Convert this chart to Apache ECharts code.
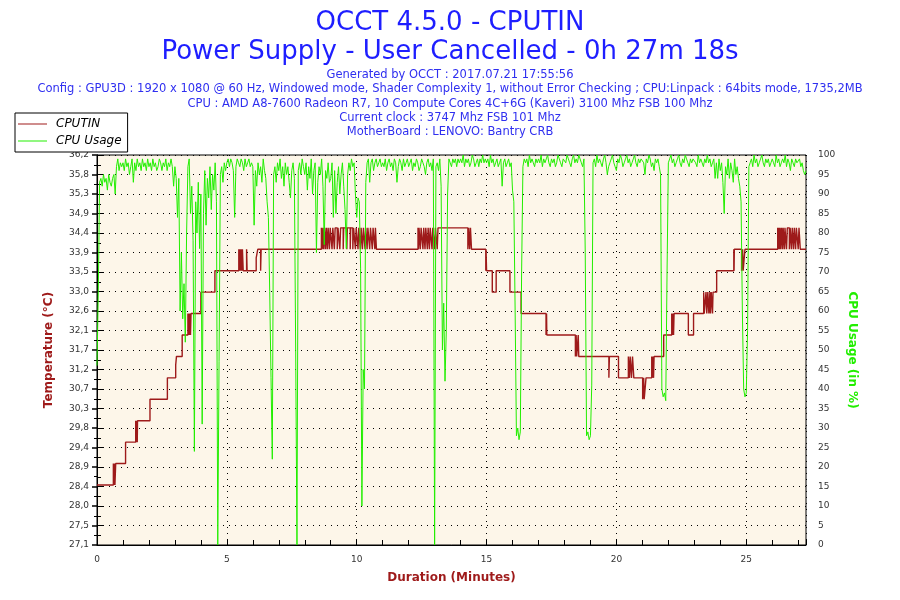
<!DOCTYPE html>
<html>
<head>
<meta charset="utf-8">
<script src="https://cdn.jsdelivr.net/npm/echarts@6/dist/echarts.min.js"></script>
<style>
html,body{margin:0;padding:0;background:#fff;}
#chart{width:900px;height:600px;}
</style>
</head>
<body>
<div id="chart"></div>
<script>
// ---------- text ----------
const titleLines = ['OCCT 4.5.0 - CPUTIN', 'Power Supply - User Cancelled - 0h 27m 18s'];
const infoLines = [
  'Generated by OCCT : 2017.07.21 17:55:56',
  'Config : GPU3D : 1920 x 1080 @ 60 Hz, Windowed mode, Shader Complexity 1, without Error Checking ; CPU:Linpack : 64bits mode, 1735,2MB',
  'CPU : AMD A8-7600 Radeon R7, 10 Compute Cores 4C+6G (Kaveri) 3100 Mhz FSB 100 Mhz',
  'Current clock : 3747 Mhz FSB 101 Mhz',
  'MotherBoard : LENOVO: Bantry CRB'
];
const seriesNames = ['CPUTIN', 'CPU Usage'];

// ---------- axes ----------
const tempMin = 27.1, tempMax = 36.2, tempStep = 0.455;
const tempTickLabels = ['27,1','27,5','28,0','28,4','28,9','29,4','29,8','30,3','30,7','31,2','31,7','32,1','32,6','33,0','33,5','33,9','34,4','34,9','35,3','35,8','36,2'];
const durationMax = 27.3; // minutes

// ---------- CPUTIN temperature: [minute, °C], value holds until next point ----------
const tempPoints = [
  [0,28.5],[0.63,29.0],[0.65,28.5],[0.67,29.0],[0.69,28.5],[0.72,29.0],
  [1.10,29.5],[1.49,30.0],[1.51,29.5],[1.53,30.0],[1.55,29.5],[1.56,30.0],
  [2.04,30.5],[2.71,31.0],[3.03,31.3],[3.06,31.5],[3.28,32.0],
  [3.50,32.5],[3.52,32.0],[3.54,32.5],[3.56,32.0],[3.58,32.5],[3.60,32.0],[3.62,32.5],
  [4.00,33.0],[4.54,33.5],
  [5.46,34.0],[5.48,33.5],[5.50,34.0],[5.53,33.5],[5.55,34.0],[5.58,33.5],[5.60,34.0],[5.63,33.5],
  [5.76,34.0],[5.78,33.5],[6.13,33.8],[6.19,34.0],[6.30,33.5],[6.32,34.0],
  [8.64,34.5],[8.67,34.0],[8.70,34.5],[8.73,34.0],[8.76,34.5],[8.80,34.0],[8.83,34.5],[8.87,34.0],
  [8.90,34.5],[8.95,34.0],[8.98,34.5],[9.05,34.0],[9.08,34.5],[9.14,34.0],[9.17,34.5],[9.25,34.0],
  [9.28,34.5],[9.35,34.0],[9.38,34.5],[9.48,34.0],[9.50,34.5],[9.62,34.0],[9.64,34.5],[9.75,34.0],
  [9.77,34.5],[9.85,34.0],[9.88,34.5],[9.95,34.0],[9.98,34.5],[10.05,34.0],[10.08,34.5],[10.14,34.0],
  [10.17,34.5],[10.22,34.0],[10.26,34.5],[10.32,34.0],[10.35,34.5],[10.40,34.0],[10.43,34.5],[10.50,34.0],
  [10.53,34.5],[10.60,34.0],[10.63,34.5],[10.70,34.0],[10.72,34.5],[10.76,34.0],
  [12.36,34.5],[12.38,34.0],[12.40,34.5],[12.45,34.0],[12.48,34.5],[12.55,34.0],[12.58,34.5],[12.63,34.0],
  [12.66,34.5],[12.72,34.0],[12.75,34.5],[12.80,34.0],[12.83,34.5],[12.90,34.0],[12.93,34.5],[13.00,34.0],
  [13.03,34.5],[13.10,34.0],[13.13,34.5],
  [14.28,34.0],[14.31,34.5],[14.35,34.0],[14.38,34.5],[14.42,34.0],
  [14.97,33.5],[14.98,34.0],[15.00,33.5],[15.22,33.0],[15.37,33.5],[15.90,33.0],[16.33,32.5],
  [17.29,32.0],[17.31,32.5],[17.32,32.0],
  [18.42,31.5],[18.45,32.0],[18.47,31.5],[18.53,32.0],[18.55,31.5],
  [19.71,31.0],[19.73,31.5],[20.08,31.0],
  [20.46,31.5],[20.50,31.0],[20.53,31.5],[20.58,31.0],[20.62,31.5],[20.67,31.0],
  [21.01,30.5],[21.05,31.0],[21.07,30.5],[21.14,31.0],
  [21.36,31.5],[21.38,31.0],[21.40,31.5],[21.43,31.0],[21.45,31.5],
  [21.82,32.0],[22.13,32.5],[22.16,32.0],[22.18,32.5],[22.20,32.0],[22.22,32.5],
  [22.77,32.0],[22.97,32.5],
  [23.36,33.0],[23.38,32.5],[23.45,33.0],[23.48,32.5],[23.52,33.0],[23.56,32.5],[23.60,33.0],[23.62,32.5],
  [23.65,33.0],[23.70,32.5],[23.72,33.0],
  [23.86,33.5],[24.52,34.0],[24.53,33.5],[24.54,34.0],
  [24.82,33.5],[24.86,34.0],[24.88,33.5],[24.95,34.0],
  [26.21,34.5],[26.23,34.0],[26.25,34.5],[26.28,34.0],[26.30,34.5],[26.33,34.0],[26.36,34.5],[26.40,34.0],
  [26.42,34.5],[26.47,34.0],[26.49,34.5],[26.55,34.0],[26.58,34.5],[26.66,34.0],[26.69,34.5],[26.74,34.0],
  [26.77,34.5],[26.82,34.0],[26.85,34.5],[26.90,34.0],[26.93,34.5],[27.00,34.0],[27.03,34.5],[27.08,34.0],
  [27.30,34.0]
];

// ---------- CPU usage (%), one reading every 0.05 minute (3 s) ----------
const cpuSampleStep = 0.05;
const cpuUsage = [
  46,65,93,94,92,95,93,94,91,95,93,92,94,95,90,97,99,96,98,97,
  98,96,99,97,98,95,97,99,93,98,96,99,97,98,96,99,97,98,96,99,
  97,98,96,99,97,98,96,97,99,98,96,98,97,99,96,98,97,99,97,92,
  97,94,84,94,60,75,58,67,52,80,97,99,85,92,78,24,88,80,93,76,
  90,31,85,96,82,94,89,97,86,95,91,98,88,0,47,95,97,93,98,96,
  98,99,97,99,98,96,84,97,99,98,97,99,98,96,99,97,98,99,97,98,
  97,82,96,92,98,95,97,93,99,96,94,88,84,65,43,22,95,97,93,98,
  96,99,94,97,92,98,95,97,93,89,96,98,94,50,0,96,98,95,99,97,
  95,98,91,97,94,99,90,96,98,75,93,97,95,99,92,77,96,94,98,93,
  94,98,84,96,85,93,97,90,95,98,92,86,76,95,98,96,99,97,98,90,
  84,89,88,71,10,45,40,93,98,99,93,98,99,96,98,99,97,98,99,97,
  98,97,99,96,98,99,97,98,96,99,98,93,97,99,98,96,99,97,98,99,
  97,98,99,96,98,97,99,98,96,97,99,98,97,95,98,99,97,98,96,99,
  0,97,98,96,99,92,50,62,42,55,90,99,98,97,99,98,99,97,99,98,
  99,98,100,97,99,98,99,97,98,100,99,97,98,99,97,99,98,100,98,99,
  98,99,97,100,98,99,97,98,99,97,98,99,92,98,99,97,98,99,97,98,
  91,88,60,28,30,27,29,70,97,99,98,99,97,100,98,99,98,97,99,98,
  99,98,100,97,99,98,99,100,98,97,99,98,99,97,98,100,99,98,97,99,
  99,98,100,99,98,97,99,100,98,99,98,100,99,98,97,99,75,28,29,27,
  28,41,98,99,97,100,98,99,98,97,99,100,98,95,97,98,99,100,98,97,
  96,99,98,100,99,97,98,99,100,98,99,97,98,99,100,98,97,99,98,99,
  99,98,95,99,98,100,99,97,98,96,99,98,99,97,95,40,38,39,37,70,
  98,99,100,98,99,97,98,99,100,98,97,99,98,100,99,98,97,99,98,99,
  99,98,97,100,98,99,98,97,99,98,100,98,99,97,98,99,94,98,94,99,
  96,98,93,85,97,95,99,94,98,96,93,99,95,97,94,92,88,60,40,38,
  39,55,97,98,99,97,100,98,99,97,98,99,100,98,97,99,98,99,97,98,
  99,98,97,100,98,99,97,98,99,98,100,97,99,98,96,99,98,97,99,98,
  98,99,97,98,96,95,96
];

// ---------- styles ----------
const FONT = 'DejaVu Sans';
const RED = '#9e1a1a';
const GREEN = '#22ee00';
const BLUE_T = '#1e1eff';
const BLUE_S = '#2f2ff0';
const dotted = { color: '#000', width: 1, type: [1, 5] };

const cpuData = cpuUsage.map((v, i) => [Math.round(i * cpuSampleStep * 100) / 100, v]);

const titles = [];
titles.push({ text: titleLines[0], left: 'center', top: 5, textStyle: { fontFamily: FONT, fontSize: 26, fontWeight: 'normal', color: BLUE_T } });
titles.push({ text: titleLines[1], left: 'center', top: 34, textStyle: { fontFamily: FONT, fontSize: 26, fontWeight: 'normal', color: BLUE_T } });
infoLines.forEach((t, i) => {
  titles.push({ text: t, left: 'center', top: 69 + i * 14.3, padding: 0, textStyle: { fontFamily: FONT, fontSize: 11.5, fontWeight: 'normal', color: BLUE_S } });
});

const chart = echarts.init(document.getElementById('chart'), null, { renderer: 'canvas' });
chart.setOption({
  animation: false,
  backgroundColor: '#fff',
  title: titles,
  legend: {
    orient: 'vertical', left: 15, top: 113,
    backgroundColor: '#fff', borderColor: '#000', borderWidth: 1,
    padding: [5, 6, 5, 3], itemGap: 5, itemWidth: 29, itemHeight: 1,
    icon: 'rect',
    textStyle: { fontFamily: FONT, fontSize: 12, fontStyle: 'italic', color: '#000', padding: [0, 0, 0, 4] },
    data: seriesNames
  },
  grid: {
    left: 97, right: 94, top: 155, bottom: 55,
    show: true, backgroundColor: '#fdf6e9', borderColor: '#000', borderWidth: 1
  },
  xAxis: [
    {
      type: 'value', min: 0, max: durationMax, interval: 5,
      name: 'Duration (Minutes)', nameLocation: 'middle', nameGap: 27,
      nameTextStyle: { fontFamily: FONT, fontSize: 12, fontWeight: 'bold', color: RED },
      axisLine: { show: true, lineStyle: { color: '#000' } },
      axisTick: { show: false },
      splitLine: { show: true, lineStyle: dotted },
      axisLabel: {
        fontFamily: FONT, fontSize: 9, color: '#333', margin: 10, showMaxLabel: false,
        formatter: v => (Math.abs(v % 5) < 1e-6 ? String(v) : '')
      }
    },
    {
      type: 'value', min: 0, max: durationMax, interval: 1, position: 'bottom',
      axisLine: { show: false }, axisLabel: { show: false }, splitLine: { show: false },
      axisTick: { show: true, inside: true, length: 5, lineStyle: { color: '#000' } }
    }
  ],
  yAxis: [
    {
      type: 'value', min: tempMin, max: tempMax, interval: tempStep, position: 'left',
      name: 'Temperature (°C)', nameLocation: 'middle', nameGap: 42, nameRotate: 90,
      nameTextStyle: { fontFamily: FONT, fontSize: 12, fontWeight: 'bold', color: RED },
      axisLine: { show: true, lineStyle: { color: '#000' } },
      axisTick: { show: true, inside: false, length: 5, lineStyle: { color: '#000', width: 1.5 } },
      minorTick: { show: true, splitNumber: 2, length: 3, lineStyle: { color: '#000' } },
      splitLine: { show: false },
      axisLabel: {
        fontFamily: FONT, fontSize: 9, color: '#333', margin: 8,
        formatter: v => tempTickLabels[Math.round((v - tempMin) / tempStep)] || ''
      }
    },
    {
      type: 'value', min: 0, max: 100, interval: 5, position: 'right',
      name: 'CPU Usage (in %)', nameLocation: 'middle', nameGap: 39, nameRotate: -90,
      nameTextStyle: { fontFamily: FONT, fontSize: 12, fontWeight: 'bold', color: GREEN },
      axisLine: { show: true, lineStyle: { color: '#000' } },
      axisTick: { show: true, inside: false, length: 6, lineStyle: { color: '#000' } },
      minorTick: { show: true, splitNumber: 2, length: 4, lineStyle: { color: '#000' } },
      splitLine: { show: true, lineStyle: dotted },
      axisLabel: { fontFamily: FONT, fontSize: 9, color: '#333', margin: 12 }
    }
  ],
  series: [
    {
      name: seriesNames[0], type: 'line', step: 'end', xAxisIndex: 0, yAxisIndex: 0,
      data: tempPoints, showSymbol: false, symbol: 'none',
      lineStyle: { color: RED, width: 1.4 }, itemStyle: { color: RED }
    },
    {
      name: seriesNames[1], type: 'line', xAxisIndex: 0, yAxisIndex: 1,
      data: cpuData, showSymbol: false, symbol: 'none',
      lineStyle: { color: GREEN, width: 1 }, itemStyle: { color: GREEN }
    }
  ]
});
</script>
</body>
</html>
